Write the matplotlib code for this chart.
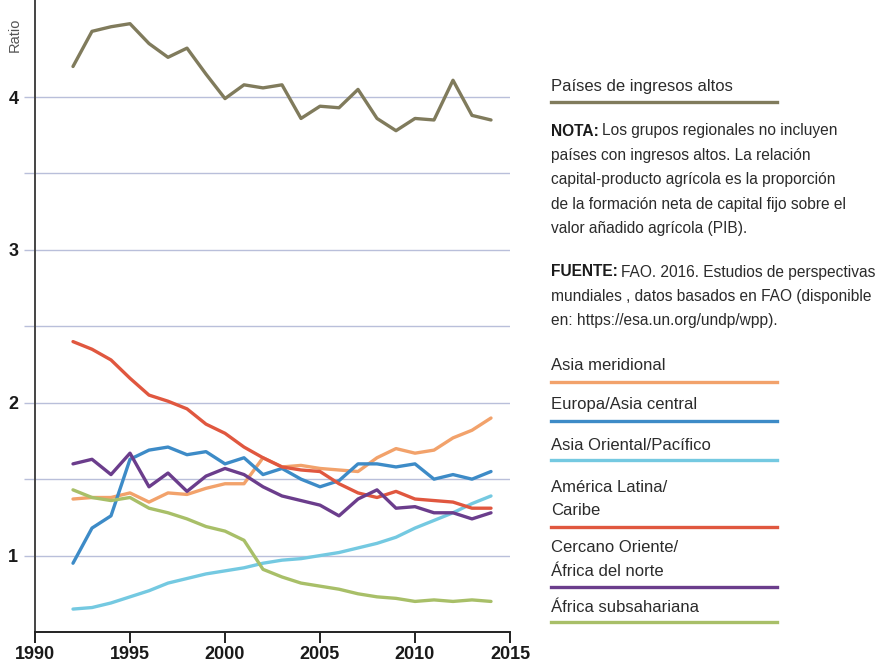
import numpy as np
import matplotlib
matplotlib.use("Agg")
import matplotlib.pyplot as plt

years = list(range(1992, 2015))

altos = [4.20, 4.43, 4.46, 4.48, 4.35, 4.26, 4.32, 4.15, 3.99, 4.08, 4.06, 4.08,
         3.86, 3.94, 3.93, 4.05, 3.86, 3.78, 3.86, 3.85, 4.11, 3.88, 3.85]
asia_meridional = [1.37, 1.38, 1.38, 1.41, 1.35, 1.41, 1.40, 1.44, 1.47, 1.47, 1.64, 1.58,
                   1.59, 1.57, 1.56, 1.55, 1.64, 1.70, 1.67, 1.69, 1.77, 1.82, 1.90]
europa_asia_central = [0.95, 1.18, 1.26, 1.63, 1.69, 1.71, 1.66, 1.68, 1.60, 1.64, 1.53, 1.57,
                       1.50, 1.45, 1.49, 1.60, 1.60, 1.58, 1.60, 1.50, 1.53, 1.50, 1.55]
asia_oriental = [0.65, 0.66, 0.69, 0.73, 0.77, 0.82, 0.85, 0.88, 0.90, 0.92, 0.95, 0.97,
                 0.98, 1.00, 1.02, 1.05, 1.08, 1.12, 1.18, 1.23, 1.28, 1.34, 1.39]
america_latina = [2.40, 2.35, 2.28, 2.16, 2.05, 2.01, 1.96, 1.86, 1.80, 1.71, 1.64, 1.58,
                  1.56, 1.55, 1.47, 1.41, 1.38, 1.42, 1.37, 1.36, 1.35, 1.31, 1.31]
cercano_oriente = [1.60, 1.63, 1.53, 1.67, 1.45, 1.54, 1.42, 1.52, 1.57, 1.53, 1.45, 1.39,
                   1.36, 1.33, 1.26, 1.37, 1.43, 1.31, 1.32, 1.28, 1.28, 1.24, 1.28]
africa_subsahariana = [1.43, 1.38, 1.36, 1.38, 1.31, 1.28, 1.24, 1.19, 1.16, 1.10, 0.91, 0.86,
                       0.82, 0.80, 0.78, 0.75, 0.73, 0.72, 0.70, 0.71, 0.70, 0.71, 0.70]

series = [
    (["Asia meridional"], asia_meridional, "#f2a26b"),
    (["Europa/Asia central"], europa_asia_central, "#3d8bc7"),
    (["Asia Oriental/Pacífico"], asia_oriental, "#74c9e1"),
    (["América Latina/", "Caribe"], america_latina, "#e0573f"),
    (["Cercano Oriente/", "África del norte"], cercano_oriente, "#6b3d8c"),
    (["África subsahariana"], africa_subsahariana, "#a8bf68"),
]
altos_label = "Países de ingresos altos"
altos_color = "#807b5c"

nota_head = "NOTA:"
nota = ["Los grupos regionales no incluyen",
        "países con ingresos altos. La relación",
        "capital-producto agrícola es la proporción",
        "de la formación neta de capital fijo sobre el",
        "valor añadido agrícola (PIB)."]
fuente_head = "FUENTE:"
fuente = ["FAO. 2016. Estudios de perspectivas",
          "mundiales , datos basados en FAO (disponible",
          "en: https://esa.un.org/undp/wpp)."]

font = ["Liberation Sans", "DejaVu Sans"]
grid_color = "#b9bfda"
txt_color = "#2b2b2b"

fig = plt.figure(figsize=(8.85, 6.71), dpi=100)
ax = fig.add_axes([35 / 885, 39 / 671, 475 / 885, 632 / 671])

ax.plot(years, altos, color=altos_color, lw=2.4, solid_capstyle="round")
for name, vals, col in series:
    ax.plot(years, vals, color=col, lw=2.4, solid_capstyle="round")

ax.set_xlim(1990, 2015)
ax.set_ylim(0.5, 4.635)
ax.set_xticks([1990, 1995, 2000, 2005, 2010, 2015])
ax.set_yticks(np.arange(1.0, 4.01, 0.5))
ax.set_yticklabels(["1", "", "2", "", "3", "", "4"])
ax.yaxis.grid(True, color=grid_color, lw=1)
ax.set_axisbelow(True)

for s in ["top", "right"]:
    ax.spines[s].set_visible(False)
ax.spines["left"].set_color("#444444")
ax.spines["left"].set_linewidth(1.4)
ax.spines["bottom"].set_color("#222222")
ax.spines["bottom"].set_linewidth(1.4)

ax.tick_params(axis="y", length=8, width=1, color=grid_color, pad=4)
ax.tick_params(axis="x", length=8, width=1.4, color="#222222", pad=2)
for lab in ax.get_xticklabels() + ax.get_yticklabels():
    lab.set_family(font)
    lab.set_fontweight("bold")
    lab.set_fontsize(13)
    lab.set_color("#1a1a1a")

fig.text(15 / 885, 1 - 35 / 671, "Ratio", rotation=90, ha="center", va="center",
         fontsize=10.5, color="#555555", family=font)

# right-hand legend and notes
x0 = 551 / 885
x1 = 777 / 885


def fy(py):
    return 1 - py / 671


txt_kw = dict(family=font, fontsize=12, color=txt_color, ha="left", va="center")
note_kw = dict(family=font, fontsize=11.2, color=txt_color, ha="left", va="center")
renderer = fig.canvas.get_renderer()


def note_block(head, lines, top, step=24.5):
    h = fig.text(x0, fy(top), head, fontweight="bold", **dict(note_kw, color="#1a1a1a"))
    w = h.get_window_extent(renderer).width
    fig.text(x0 + (w + 3) / 885, fy(top), lines[0], **note_kw)
    for i, line in enumerate(lines[1:], start=1):
        fig.text(x0, fy(top + i * step), line, **note_kw)


fig.text(x0, fy(87), altos_label, **txt_kw)
fig.add_artist(plt.Line2D([x0, x1], [fy(102), fy(102)], color=altos_color, lw=2.4))

note_block(nota_head, nota, 131)
note_block(fuente_head, fuente, 272)

label_y = [365, 405, 445, 487, 548, 607]
line_y = [382, 421, 460, 527, 587, 622]
for (name, vals, col), ty, ly in zip(series, label_y, line_y):
    for i, part in enumerate(name):
        fig.text(x0, fy(ty + i * 23.5), part, **txt_kw)
    fig.add_artist(plt.Line2D([x0, x1], [fy(ly), fy(ly)], color=col, lw=2.4))

fig.savefig("out.png", dpi=100)
